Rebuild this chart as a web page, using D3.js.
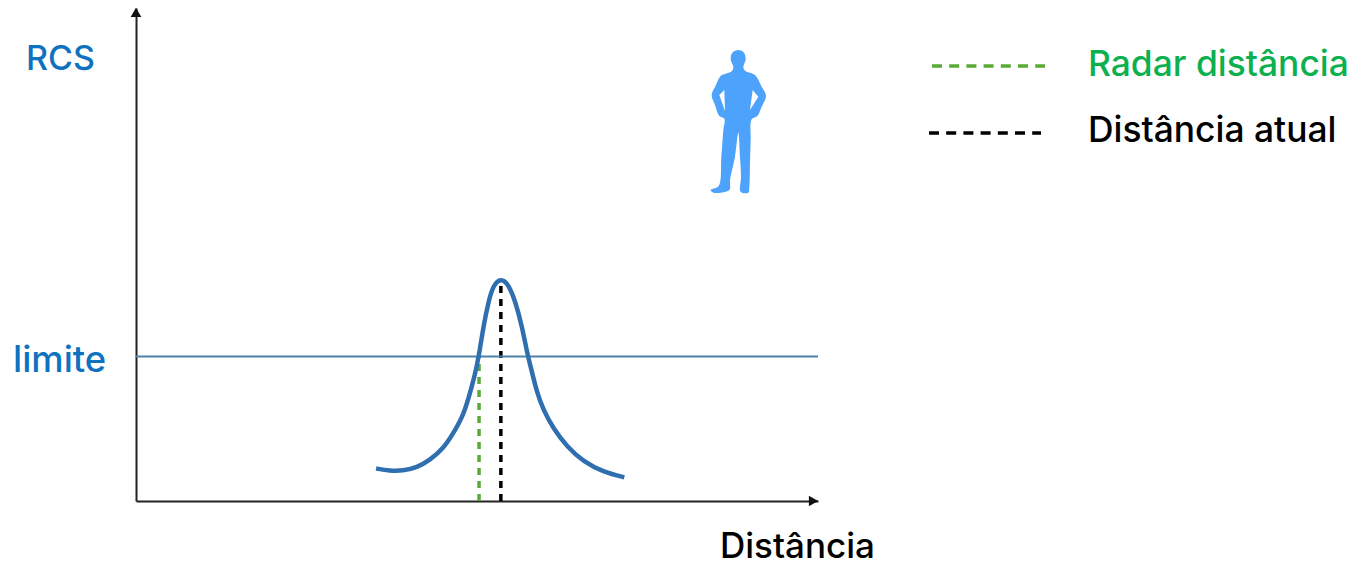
<!DOCTYPE html>
<html lang="pt">
<head>
    <meta charset="UTF-8">
    <title>RCS x Distância</title>
    <script src="https://d3js.org/d3.v7.min.js"></script>
    <style>
        html, body { margin: 0; background: #fff; overflow: hidden; }
        svg { display: block; }
        text { font-family: Inter, Roboto, sans-serif; font-size: 35px; font-weight: 500; }
    </style>
</head>
<body>
<script>
    // Curva de RCS (unidades relativas, 0-100)
    const distancia = [35.2, 37.2, 39.1, 41.2, 43.1, 45.1, 46.5, 47.8, 48.7, 49.7, 50.3, 50.9, 51.7, 52.4, 53.5, 54.6, 55.6, 56.6, 57.4, 58.3, 58.7, 59.7, 61.2, 63.2, 65.6, 68.5, 71.6];
    const rcs = [6.6, 6.1, 6.1, 6.8, 8.3, 10.7, 13.7, 16.8, 20.5, 25.6, 29.6, 35.1, 40.6, 43.8, 45.2, 44.0, 40.6, 35.5, 29.6, 24.9, 22.5, 18.5, 14.7, 11.0, 8.0, 5.9, 4.8];
    const limite = 29.3;
    const radarDistancia = 50.3;
    const distanciaAtual = 53.5;
    const legendLabels = ['Radar distância', 'Distância atual'];
    const legendColors = ['#0db04f', '#000000'];
    const lineColors = ['#5aab35', '#000000'];

    // Contorno da silhueta (coordenadas do icone)
    const corpo = [[175, 60], [192, 68], [197, 88], [190, 112], [195, 122], [225, 135], [245, 170], [258, 198], [245, 230], [232, 258], [215, 268], [212, 330], [210, 400], [208, 472], [205, 488], [182, 485], [183, 440], [180, 380], [175, 308], [165, 380], [150, 450], [148, 480], [100, 488], [92, 480], [116, 468], [124, 380], [130, 300], [133, 266], [118, 258], [105, 225], [95, 195], [108, 165], [122, 138], [155, 124], [160, 112], [152, 88], [157, 68]];
    const bracoEsq = [[133, 180], [118, 195], [135, 243]];
    const bracoDir = [[218, 180], [235, 200], [210, 240]];

    const svg = d3.select('body').append('svg')
        .attr('width', 1351)
        .attr('height', 565);

    const x = d3.scaleLinear().domain([0, 100]).range([136, 818]);
    const y = d3.scaleLinear().domain([0, 100]).range([501, 8]);

    // Eixos sem ticks
    svg.append('g')
        .attr('transform', `translate(0,${y(0)})`)
        .call(d3.axisBottom(x).tickValues([]).tickSize(0))
        .select('.domain').attr('stroke', '#222').attr('stroke-width', 2);
    svg.append('g')
        .attr('transform', `translate(${x(0)},0)`)
        .call(d3.axisLeft(y).tickValues([]).tickSize(0))
        .select('.domain').attr('stroke', '#222').attr('stroke-width', 2);

    // Pontas de seta
    const arrow = d3.symbol().type(d3.symbolTriangle).size(50);
    svg.append('path').attr('d', arrow).attr('fill', '#111')
        .attr('transform', `translate(${x(0)},${y(100) + 6})`);
    svg.append('path').attr('d', arrow).attr('fill', '#111')
        .attr('transform', `translate(${x(100) - 6},${y(0)}) rotate(90)`);

    // Linhas tracejadas verticais
    const marcas = [radarDistancia, distanciaAtual];
    const marcaTopo = [limite, 44.5];
    svg.selectAll('line.marca')
        .data(marcas)
        .enter().append('line')
        .attr('class', 'marca')
        .attr('x1', d => x(d))
        .attr('x2', d => x(d))
        .attr('y1', y(0))
        .attr('y2', (d, i) => y(marcaTopo[i]))
        .attr('stroke', (d, i) => lineColors[i])
        .attr('stroke-width', 3.5)
        .attr('stroke-dasharray', '7 6');

    // Limite
    svg.append('line')
        .attr('x1', x(0))
        .attr('x2', x(100))
        .attr('y1', y(limite))
        .attr('y2', y(limite))
        .attr('stroke', '#4f81a8')
        .attr('stroke-width', 2);

    // Curva
    const line = d3.line()
        .x(d => x(d[0]))
        .y(d => y(d[1]))
        .curve(d3.curveBasis);
    svg.append('path')
        .datum(d3.zip(distancia, rcs))
        .attr('d', line)
        .attr('fill', 'none')
        .attr('stroke', '#2f6fb0')
        .attr('stroke-width', 4.5);

    // Silhueta
    const contorno = d3.line().curve(d3.curveLinearClosed);
    const suave = d3.line().curve(d3.curveCatmullRomClosed.alpha(0.5));
    svg.append('path')
        .attr('d', suave(corpo) + contorno(bracoEsq) + contorno(bracoDir))
        .attr('fill', '#4da2fb')
        .attr('fill-rule', 'evenodd')
        .attr('transform', 'translate(680,30) scale(0.3333)');

    // Textos
    svg.append('text').attr('x', 26).attr('y', 70).attr('fill', '#0f72c0').style('font-size', '34px').text('RCS');
    svg.append('text').attr('x', 13).attr('y', 372).attr('fill', '#0f72c0').style('font-size', '36.4px').text('limite');
    svg.append('text').attr('x', 720).attr('y', 558).attr('fill', '#000').text('Distância');

    // Legenda
    const legendY = [66, 133];
    const legendX = [[932, 1045], [929, 1041]];
    const legendBase = [75.5, 142];
    svg.selectAll('line.legenda')
        .data(lineColors)
        .enter().append('line')
        .attr('class', 'legenda')
        .attr('x1', (d, i) => legendX[i][0])
        .attr('x2', (d, i) => legendX[i][1])
        .attr('y1', (d, i) => legendY[i])
        .attr('y2', (d, i) => legendY[i])
        .attr('stroke', d => d)
        .attr('stroke-width', 3.5)
        .attr('stroke-dasharray', '10 7.2');
    svg.selectAll('text.legenda')
        .data(legendLabels)
        .enter().append('text')
        .attr('class', 'legenda')
        .attr('x', 1088)
        .attr('y', (d, i) => legendBase[i])
        .attr('fill', (d, i) => legendColors[i])
        .style('font-size', '35.4px')
        .text(d => d);
</script>
</body>
</html>
